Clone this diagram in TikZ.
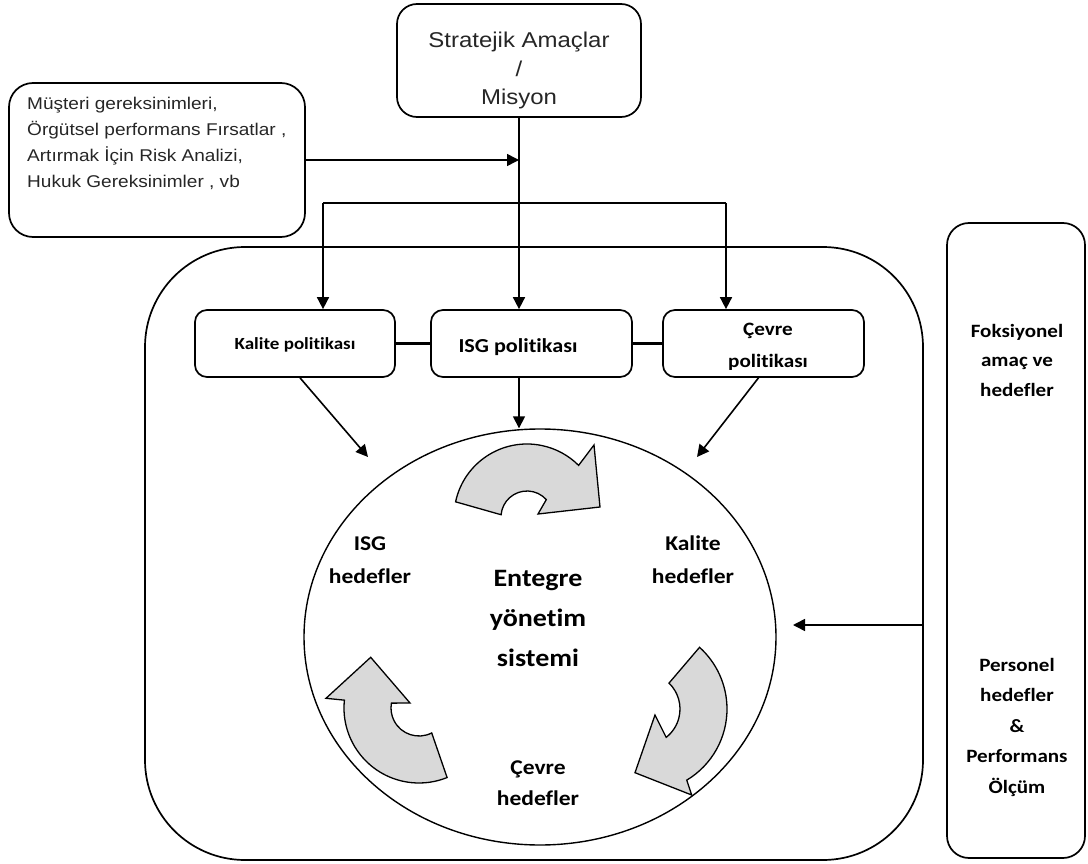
\documentclass[tikz,border=0pt]{standalone}
\usepackage{fontspec}
\usetikzlibrary{arrows.meta,calc,shapes.geometric}
\newfontfamily\arialf[FakeStretch=1.12]{Liberation Sans}
\newfontfamily\calibf[FakeStretch=1.12,Ligatures=NoCommon]{Carlito}

\begin{document}
\begin{tikzpicture}[x=1pt,y=-1pt,
  rbox/.style={draw=black, line width=1.7pt, rounded corners=#1, inner sep=0pt},
  rbox/.default=20pt,
  arr/.style={draw=black, line width=1.6pt, -{Triangle[length=12pt,width=12pt]}},
  link/.style={draw=black, line width=1.6pt},
  thick link/.style={draw=black, line width=3pt},
  cycarrow/.style={draw=black, line width=1.3pt, fill=black!15, line join=miter},
  plain/.style={inner sep=0pt, align=center, text=black!85},
  boldtxt/.style={inner sep=0pt, align=center, text=black},
]
\useasboundingbox (0,0) rectangle (1088,864);

% ---------- boxes ----------
\node[rbox=20pt, minimum width=244pt, minimum height=113pt] (strat) at (519,60.5) {};
\node[rbox=24pt, minimum width=296pt, minimum height=154pt] (inputs) at (157,160) {};
\node[rbox=100pt, minimum width=778pt, minimum height=613pt] (ims) at (534,553.5) {};
\node[rbox=22pt, minimum width=138pt, minimum height=635pt] (side) at (1016,540.5) {};
\node[rbox=12pt, minimum width=200pt, minimum height=67pt] (kpol) at (295,343.5) {};
\node[rbox=12pt, minimum width=201pt, minimum height=67pt] (ipol) at (531.5,343.5) {};
\node[rbox=12pt, minimum width=201pt, minimum height=67pt] (cpol) at (763.5,343.5) {};
\node[draw=black, line width=1.4pt, ellipse, inner sep=0pt,
      minimum width=472pt, minimum height=416pt] (ell) at (540,637) {};

% ---------- texts ----------
\node[plain, font=\arialf\fontsize{21.4}{28.5}\selectfont] (tStrat) at (519,70.5)
  {Stratejik Amaçlar\\/\\Misyon};
\node[plain, align=left, anchor=west, font=\arialf\fontsize{17}{26}\selectfont] (tInputs) at (27,143.5)
  {Müşteri gereksinimleri,\\Örgütsel performans Fırsatlar ,\\Artırmak İçin Risk Analizi,\\Hukuk Gereksinimler , vb};
\node[boldtxt, font=\calibf\bfseries\fontsize{17}{20}\selectfont] (tKpol) at (295,345) {Kalite politikası};
\node[boldtxt, font=\calibf\bfseries\fontsize{19.8}{24}\selectfont] (tIpol) at (518,347) {ISG politikası};
\node[boldtxt, font=\calibf\bfseries\fontsize{18.9}{32}\selectfont] (tCpol) at (768,347) {Çevre\\politikası};
\node[boldtxt, font=\calibf\bfseries\fontsize{18.8}{29.5}\selectfont] (tSide1) at (1017,360)
  {Foksiyonel\\amaç ve\\hedefler};
\node[boldtxt, font=\calibf\bfseries\fontsize{18.8}{30.5}\selectfont] (tSide2) at (1017,727)
  {Personel\\hedefler\\\&\\Performans\\Ölçüm};
\node[boldtxt, font=\calibf\bfseries\fontsize{21}{33}\selectfont] (tIsgH) at (370,560) {ISG\\hedefler};
\node[boldtxt, font=\calibf\bfseries\fontsize{21}{33}\selectfont] (tKalH) at (693,560) {Kalite\\hedefler};
\node[boldtxt, font=\calibf\bfseries\fontsize{25}{40}\selectfont] (tIms) at (538,618.5)
  {Entegre\\yönetim\\sistemi};
\node[boldtxt, font=\calibf\bfseries\fontsize{21}{31}\selectfont] (tCevH) at (538,783) {Çevre\\hedefler};

% ---------- connectors ----------
\coordinate (splitL) at (323,203);
\coordinate (splitR) at (726,203);
\coordinate (kin) at (368,457);
\coordinate (cin) at (697,457);
\coordinate (sideout) at (923,625);
\coordinate (sidein) at (793,625);

\draw[arr] (strat.south) -- (strat.south |- ipol.north);
\draw[arr] (inputs.east) -- (inputs.east -| strat.south);
\draw[link] (splitL) -- (splitR);
\draw[arr] (splitL) -- (splitL |- kpol.north);
\draw[arr] (splitR) -- (splitR |- cpol.north);
\draw[thick link] (kpol.east) -- (ipol.west);
\draw[thick link] (ipol.east) -- (cpol.west);
\draw[arr] ($(kpol.south)+(5,0)$) -- (kin);
\draw[arr] (strat.south |- ipol.south) -- (strat.south |- ell.north);
\draw[arr] ($(cpol.south)+(-5,0)$) -- (cin);
\draw[arr] (sideout) -- (sidein);

% ---------- circular arrows inside the cycle ----------
\coordinate (T) at (527,517);
\coordinate (L) at (419,708);
\coordinate (B) at (644,709);

\filldraw[cycarrow] ($(T)+(192:73)$) arc[start angle=192, end angle=315, radius=73]
  -- (594,445) -- (600,507) -- (538,514)
  -- ($(T)+(318:26)$) arc[start angle=318, end angle=185, radius=26] -- cycle;

\filldraw[cycarrow] ($(L)+(186:75)$) arc[start angle=186, end angle=68, radius=75]
  -- ($(L)+(63:28)$) arc[start angle=63, end angle=190, radius=28]
  -- (410,703) -- (370.7,657.3) -- (326,698.3) -- cycle;

\filldraw[cycarrow] ($(B)+(312:83)$) -- ($(B)+(314:36)$)
  arc[start angle=314, end angle=412, radius=36]
  -- (655,715) -- (635,772.7) -- (691.7,795)
  -- ($(B)+(59:83)$) arc[start angle=59, end angle=-48, radius=83] -- cycle;

\end{tikzpicture}
\end{document}
